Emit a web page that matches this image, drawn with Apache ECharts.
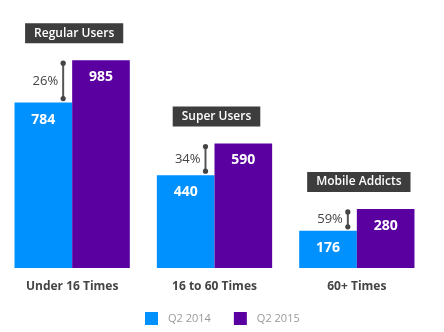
<!DOCTYPE html>
<html>
<head>
<meta charset="utf-8">
<script src="https://cdn.jsdelivr.net/npm/echarts@6/dist/echarts.min.js"></script>
<style>
  html, body { margin: 0; padding: 0; background: #fff; }
  #chart { width: 444px; height: 332px; }
</style>
</head>
<body>
<div id="chart"></div>
<script>
// Usage frequency buckets and user counts per quarter
const categories = ['Under 16 Times', '16 to 60 Times', '60+ Times'];
const groupNames = ['Regular Users', 'Super Users', 'Mobile Addicts'];
const q2_2014 = [784, 440, 176];
const q2_2015 = [985, 590, 280];
const growth = ['26%', '34%', '59%'];

const FONT = '"Open Sans", Lato, sans-serif';
const BLUE = '#0091ff';
const PURPLE = '#5b00a0';

const chart = echarts.init(document.getElementById('chart'));

// Growth bracket, percentage and group caption drawn per category
function renderAnnotation(params, api) {
  const idx = api.value(0);
  const low = api.coord([idx, api.value(1)]);
  const high = api.coord([idx, api.value(2)]);
  const cx = low[0];
  const bx = cx - 9;
  const y1 = high[1] + 3;
  const y2 = low[1] - 4;
  const pct = growth[idx];
  const name = groupNames[idx];
  return {
    type: 'group',
    children: [
      { type: 'line', shape: { x1: bx, y1: y1, x2: bx, y2: y2 },
        style: { stroke: '#555', lineWidth: 2 } },
      { type: 'circle', shape: { cx: bx, cy: y1, r: 2.6 }, style: { fill: '#444' } },
      { type: 'circle', shape: { cx: bx, cy: y2, r: 2.6 }, style: { fill: '#444' } },
      { type: 'text', x: bx - 5, y: (y1 + y2) / 2,
        style: { text: pct, fill: '#444', font: '13px ' + FONT,
                 align: 'right', verticalAlign: 'middle' } },
      { type: 'text', x: cx + 2, y: high[1] - 17,
        style: { text: name, fill: '#fff', font: '600 12px ' + FONT,
                 align: 'center', verticalAlign: 'bottom',
                 backgroundColor: '#3d3d3d', padding: [4, 9, 4, 9] } }
    ]
  };
}

chart.setOption({
  animation: false,
  backgroundColor: '#fff',
  grid: { left: 1, right: 16, top: 57, bottom: 64 },
  legend: {
    data: ['Q2 2014', 'Q2 2015'],
    left: 140, top: 307,
    icon: 'rect', itemWidth: 13, itemHeight: 13, itemGap: 23,
    textStyle: { color: '#999', fontSize: 11, fontFamily: FONT, padding: [0, 0, 0, 5] }
  },
  xAxis: {
    type: 'category',
    data: categories,
    axisLine: { show: false },
    axisTick: { show: false },
    axisLabel: { color: '#444', fontSize: 12, fontWeight: 'bold', fontFamily: FONT, margin: 13 }
  },
  yAxis: { type: 'value', min: 0, max: 1000, show: false },
  series: [
    {
      name: 'Q2 2014', type: 'bar', data: q2_2014,
      barGap: '0%', barCategoryGap: '19%',
      itemStyle: { color: BLUE },
      label: { show: true, position: 'insideTop', distance: 10, color: '#fff',
               fontSize: 14, fontWeight: 'bold', fontFamily: FONT }
    },
    {
      name: 'Q2 2015', type: 'bar', data: q2_2015,
      itemStyle: { color: PURPLE },
      label: { show: true, position: 'insideTop', distance: 10, color: '#fff',
               fontSize: 14, fontWeight: 'bold', fontFamily: FONT }
    },
    {
      name: 'growth', type: 'custom', z: 5,
      data: categories.map((c, i) => [i, q2_2014[i], q2_2015[i]]),
      renderItem: renderAnnotation
    }
  ]
});
</script>
</body>
</html>
